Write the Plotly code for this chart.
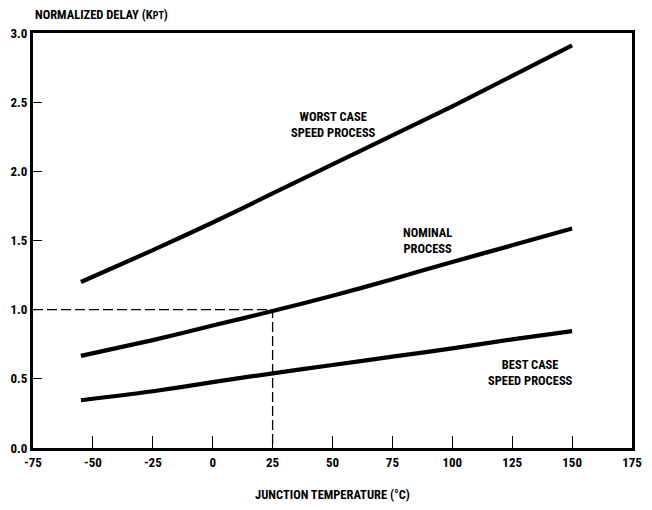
import plotly.graph_objects as go

# Data
temps = [-55, -25, 0, 25, 50, 75, 100, 125, 150]
worst_case = [1.20, 1.43, 1.63, 1.84, 2.05, 2.26, 2.47, 2.69, 2.91]
nominal = [0.666, 0.78, 0.885, 0.99, 1.10, 1.22, 1.345, 1.465, 1.586]
best_case = [0.345, 0.41, 0.476, 0.54, 0.60, 0.66, 0.72, 0.785, 0.845]
ref_x = [-75, 25, 25]
ref_y = [1.0, 1.0, 0.0]
x_ticks = [-75, -50, -25, 0, 25, 50, 75, 100, 125, 150, 175]
y_ticks = [0.0, 0.5, 1.0, 1.5, 2.0, 2.5, 3.0]
labels = ["WORST CASE<br>SPEED PROCESS", "NOMINAL<br>PROCESS", "BEST CASE<br>SPEED PROCESS"]
label_x = [50.5, 89.5, 132.5]
label_y = [2.34, 1.50, 0.545]

FONT = "Liberation Sans Narrow, Roboto Condensed, Arial Narrow, Liberation Sans, sans-serif"

fig = go.Figure()
fig.add_trace(go.Scatter(x=ref_x, y=ref_y, mode="lines",
                         line=dict(color="black", width=1.3, dash="10px,4px"),
                         hoverinfo="skip", showlegend=False))
for ys in (worst_case, nominal, best_case):
    fig.add_trace(go.Scatter(x=temps, y=ys, mode="lines",
                             line=dict(color="black", width=4.2, shape="spline", smoothing=0.6),
                             showlegend=False))

ann_font = dict(family=FONT, size=12.5, color="black", weight="bold")
for t, lx, ly in zip(labels, label_x, label_y):
    fig.add_annotation(x=lx, y=ly, xref="x", yref="y", text=t,
                       showarrow=False, font=ann_font, align="center")

fig.add_annotation(x=0.0, y=1.0, xref="paper", yref="paper",
                   xanchor="left", yanchor="bottom", yshift=9,
                   text="NORMALIZED DELAY (K<span style='font-size:10px'>PT</span>)",
                   showarrow=False, font=ann_font)

fig.update_layout(
    width=652, height=510,
    margin=dict(l=33, r=10, t=33, b=56),
    paper_bgcolor="white", plot_bgcolor="white",
    font=dict(family=FONT, size=12, color="black"),
    xaxis=dict(range=[-75, 175], tickvals=x_ticks,
               ticktext=[str(v) for v in x_ticks],
               ticks="inside", ticklen=12, tickwidth=1.3, tickcolor="black",
               showline=True, linewidth=3, linecolor="black", mirror=True,
               showgrid=False, zeroline=False,
               tickfont=dict(family=FONT, size=13, color="black", weight="bold"),
               title=dict(text="JUNCTION TEMPERATURE (°C)", standoff=22,
                          font=dict(family=FONT, size=12.5, color="black", weight="bold"))),
    yaxis=dict(range=[0, 3.0], tickvals=y_ticks,
               ticktext=[f"{v:.1f}" for v in y_ticks],
               ticks="inside", ticklen=9, tickwidth=1.3, tickcolor="black",
               showline=True, linewidth=3, linecolor="black", mirror=True,
               showgrid=False, zeroline=False,
               tickfont=dict(family=FONT, size=13, color="black", weight="bold")),
)

fig.write_html("out.html")
